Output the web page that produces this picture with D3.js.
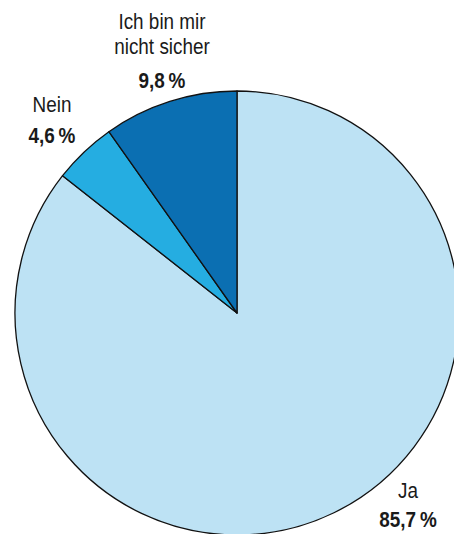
<!DOCTYPE html>
<html>
<head>
<meta charset="utf-8">
<script src="https://cdn.jsdelivr.net/npm/d3@7"></script>
<style>
  html, body { margin: 0; padding: 0; background: #fff; overflow: hidden; }
  svg { display: block; }
  text { font-family: "Liberation Sans", Arial, sans-serif; fill: #1a1a1a; }
</style>
</head>
<body>
<div id="chart"></div>
<script>
const categories = ["Ja", "Nein", "Ich bin mir nicht sicher"];
const values = [85.7, 4.6, 9.8];
const valueLabels = ["85,7\u2009%", "4,6\u2009%", "9,8\u2009%"];
const colors = ["#bde2f4", "#25ade1", "#0b6fb2"];

// label text lines and their baselines
const labelLines = [["Ja"], ["Nein"], ["Ich bin mir", "nicht sicher"]];
const labelX = [408, 52, 162];
const labelBaselines = [[498], [112], [29, 54]];
const valueBaselines = [527, 143, 88];

const width = 454, height = 534;
const cx = 237, cy = 313, r = 222;
const squeeze = 0.86; // condensed look of the original type

const svg = d3.select("#chart").append("svg")
  .attr("width", width)
  .attr("height", height);

const data = categories.map((c, i) => ({ name: c, value: values[i], i }));

const pie = d3.pie().sort(null).value(d => d.value);
const arc = d3.arc().innerRadius(0).outerRadius(r);

svg.append("g")
  .attr("transform", `translate(${cx},${cy})`)
  .selectAll("path")
  .data(pie(data))
  .enter().append("path")
  .attr("d", arc)
  .attr("fill", d => colors[d.data.i])
  .attr("stroke", "#111")
  .attr("stroke-width", 1.3)
  .attr("stroke-linejoin", "round");

const lbl = svg.append("g");
data.forEach((d, i) => {
  labelLines[i].forEach((line, k) => {
    lbl.append("text")
      .attr("text-anchor", "middle")
      .attr("transform", `translate(${labelX[i]},${labelBaselines[i][k]}) scale(${squeeze},1)`)
      .attr("font-size", "22px")
      .text(line);
  });
  lbl.append("text")
    .attr("text-anchor", "middle")
    .attr("transform", `translate(${labelX[i]},${valueBaselines[i]}) scale(${squeeze},1)`)
    .attr("font-size", "22px")
    .attr("font-weight", "bold")
    .text(valueLabels[i]);
});
</script>
</body>
</html>
